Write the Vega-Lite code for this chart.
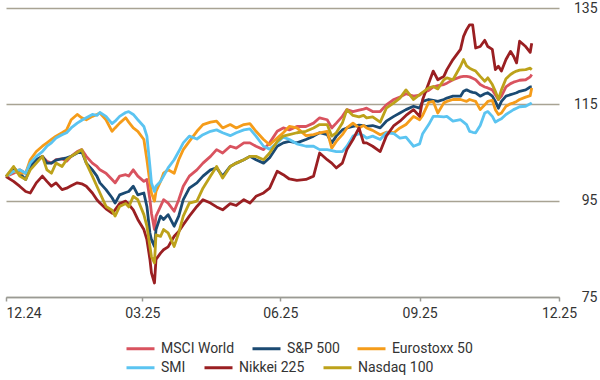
{
  "$schema": "https://vega.github.io/schema/vega-lite/v6.json",
  "width": 553,
  "height": 289,
  "autosize": {"type": "none"},
  "padding": {"left": 6, "top": 8, "right": 41, "bottom": 83},
  "background": "white",
  "config": {
    "view": {"stroke": null},
    "font": "Roboto",
    "axis": {"labelFont": "Roboto", "labelColor": "#333333", "labelFontSize": 14},
    "legend": {"labelFont": "Roboto", "labelColor": "#333333", "labelFontSize": 14}
  },
  "data": {
    "values": [
      {"d": "2024-12-31", "MSCI World": 100, "S&P 500": 100, "Eurostoxx 50": 100, "SMI": 100, "Nikkei 225": 100, "Nasdaq 100": 100},
      {"d": "2025-01-05", "MSCI World": 100.7, "S&P 500": 101.8, "Eurostoxx 50": 101.1, "SMI": 101.1, "Nikkei 225": 99.0, "Nasdaq 100": 102.1},
      {"d": "2025-01-09", "MSCI World": 101.4, "S&P 500": 100.7, "Eurostoxx 50": 100.7, "SMI": 101.4, "Nikkei 225": 98.0, "Nasdaq 100": 100.1},
      {"d": "2025-01-13", "MSCI World": 100.7, "S&P 500": 99.4, "Eurostoxx 50": 100.7, "SMI": 100.7, "Nikkei 225": 96.9, "Nasdaq 100": 99.4},
      {"d": "2025-01-16", "MSCI World": 102.8, "S&P 500": 102.1, "Eurostoxx 50": 103.5, "SMI": 102.8, "Nikkei 225": 96.6, "Nasdaq 100": 101.4},
      {"d": "2025-01-20", "MSCI World": 103.5, "S&P 500": 103.5, "Eurostoxx 50": 105.2, "SMI": 104.2, "Nikkei 225": 98.7, "Nasdaq 100": 102.8},
      {"d": "2025-01-24", "MSCI World": 104.2, "S&P 500": 104.2, "Eurostoxx 50": 106.3, "SMI": 105.2, "Nikkei 225": 100.1, "Nasdaq 100": 104.2},
      {"d": "2025-01-27", "MSCI World": 103.2, "S&P 500": 102.8, "Eurostoxx 50": 107.0, "SMI": 106.3, "Nikkei 225": 99.0, "Nasdaq 100": 101.4},
      {"d": "2025-01-30", "MSCI World": 102.8, "S&P 500": 102.8, "Eurostoxx 50": 107.7, "SMI": 107.0, "Nikkei 225": 98.0, "Nasdaq 100": 100.7},
      {"d": "2025-02-02", "MSCI World": 103.5, "S&P 500": 103.4, "Eurostoxx 50": 108.4, "SMI": 108.0, "Nikkei 225": 98.7, "Nasdaq 100": 102.8},
      {"d": "2025-02-06", "MSCI World": 103.7, "S&P 500": 103.7, "Eurostoxx 50": 109.1, "SMI": 108.7, "Nikkei 225": 97.3, "Nasdaq 100": 102.1},
      {"d": "2025-02-09", "MSCI World": 103.2, "S&P 500": 103.9, "Eurostoxx 50": 109.7, "SMI": 109.1, "Nikkei 225": 97.6, "Nasdaq 100": 103.5},
      {"d": "2025-02-12", "MSCI World": 104.2, "S&P 500": 104.2, "Eurostoxx 50": 111.8, "SMI": 110.1, "Nikkei 225": 98.1, "Nasdaq 100": 104.2},
      {"d": "2025-02-16", "MSCI World": 105.2, "S&P 500": 104.9, "Eurostoxx 50": 112.9, "SMI": 111.1, "Nikkei 225": 98.7, "Nasdaq 100": 105.0},
      {"d": "2025-02-19", "MSCI World": 105.6, "S&P 500": 105.2, "Eurostoxx 50": 112.2, "SMI": 111.7, "Nikkei 225": 98.5, "Nasdaq 100": 105.6},
      {"d": "2025-02-22", "MSCI World": 104.2, "S&P 500": 102.8, "Eurostoxx 50": 111.8, "SMI": 112.2, "Nikkei 225": 98.0, "Nasdaq 100": 102.8},
      {"d": "2025-02-26", "MSCI World": 102.8, "S&P 500": 101.4, "Eurostoxx 50": 112.5, "SMI": 112.9, "Nikkei 225": 96.6, "Nasdaq 100": 100.1},
      {"d": "2025-03-01", "MSCI World": 102.1, "S&P 500": 100.1, "Eurostoxx 50": 112.9, "SMI": 112.7, "Nikkei 225": 95.2, "Nasdaq 100": 98.0},
      {"d": "2025-03-03", "MSCI World": 101.4, "S&P 500": 98.7, "Eurostoxx 50": 113.2, "SMI": 113.3, "Nikkei 225": 94.5, "Nasdaq 100": 96.6},
      {"d": "2025-03-07", "MSCI World": 100.7, "S&P 500": 97.3, "Eurostoxx 50": 111.8, "SMI": 112.5, "Nikkei 225": 93.3, "Nasdaq 100": 93.8},
      {"d": "2025-03-11", "MSCI World": 99.4, "S&P 500": 95.6, "Eurostoxx 50": 109.4, "SMI": 111.0, "Nikkei 225": 92.4, "Nasdaq 100": 93.0},
      {"d": "2025-03-13", "MSCI World": 98.7, "S&P 500": 94.5, "Eurostoxx 50": 110.1, "SMI": 111.5, "Nikkei 225": 93.1, "Nasdaq 100": 91.8},
      {"d": "2025-03-16", "MSCI World": 100.1, "S&P 500": 96.2, "Eurostoxx 50": 111.1, "SMI": 112.5, "Nikkei 225": 94.4, "Nasdaq 100": 93.8},
      {"d": "2025-03-20", "MSCI World": 100.4, "S&P 500": 96.7, "Eurostoxx 50": 112.2, "SMI": 113.3, "Nikkei 225": 94.9, "Nasdaq 100": 94.4},
      {"d": "2025-03-22", "MSCI World": 100.1, "S&P 500": 96.9, "Eurostoxx 50": 111.3, "SMI": 113.5, "Nikkei 225": 94.2, "Nasdaq 100": 93.7},
      {"d": "2025-03-25", "MSCI World": 101.4, "S&P 500": 98.0, "Eurostoxx 50": 110.1, "SMI": 112.9, "Nikkei 225": 93.1, "Nasdaq 100": 95.9},
      {"d": "2025-03-28", "MSCI World": 100.1, "S&P 500": 96.2, "Eurostoxx 50": 109.4, "SMI": 111.8, "Nikkei 225": 91.1, "Nasdaq 100": 95.2},
      {"d": "2025-04-01", "MSCI World": 99.0, "S&P 500": 96.6, "Eurostoxx 50": 107.7, "SMI": 110.4, "Nikkei 225": 89.0, "Nasdaq 100": 92.1},
      {"d": "2025-04-03", "MSCI World": 99.4, "S&P 500": 93.8, "Eurostoxx 50": 103.5, "SMI": 108.4, "Nikkei 225": 86.9, "Nasdaq 100": 89.7},
      {"d": "2025-04-05", "MSCI World": 95.2, "S&P 500": 88.3, "Eurostoxx 50": 98.7, "SMI": 102.1, "Nikkei 225": 82.8, "Nasdaq 100": 85.5},
      {"d": "2025-04-06", "MSCI World": 92.4, "S&P 500": 86.9, "Eurostoxx 50": 96.6, "SMI": 98.7, "Nikkei 225": 80.0, "Nasdaq 100": 83.4},
      {"d": "2025-04-08", "MSCI World": 89.0, "S&P 500": 85.5, "Eurostoxx 50": 94.9, "SMI": 96.9, "Nikkei 225": 77.9, "Nasdaq 100": 82.1},
      {"d": "2025-04-09", "MSCI World": 91.8, "S&P 500": 89.0, "Eurostoxx 50": 96.9, "SMI": 98.0, "Nikkei 225": 82.8, "Nasdaq 100": 87.9},
      {"d": "2025-04-12", "MSCI World": 93.8, "S&P 500": 91.8, "Eurostoxx 50": 99.0, "SMI": 99.0, "Nikkei 225": 84.1, "Nasdaq 100": 87.6},
      {"d": "2025-04-14", "MSCI World": 95.2, "S&P 500": 91.1, "Eurostoxx 50": 100.7, "SMI": 100.1, "Nikkei 225": 84.8, "Nasdaq 100": 89.0},
      {"d": "2025-04-17", "MSCI World": 94.5, "S&P 500": 92.1, "Eurostoxx 50": 101.4, "SMI": 101.8, "Nikkei 225": 85.4, "Nasdaq 100": 88.3},
      {"d": "2025-04-21", "MSCI World": 92.8, "S&P 500": 89.7, "Eurostoxx 50": 100.7, "SMI": 103.5, "Nikkei 225": 87.6, "Nasdaq 100": 85.5},
      {"d": "2025-04-24", "MSCI World": 95.2, "S&P 500": 91.8, "Eurostoxx 50": 103.5, "SMI": 105.2, "Nikkei 225": 88.6, "Nasdaq 100": 88.3},
      {"d": "2025-04-27", "MSCI World": 98.0, "S&P 500": 95.2, "Eurostoxx 50": 105.6, "SMI": 107.0, "Nikkei 225": 90.0, "Nasdaq 100": 91.8},
      {"d": "2025-05-01", "MSCI World": 100.1, "S&P 500": 97.6, "Eurostoxx 50": 107.3, "SMI": 108.4, "Nikkei 225": 91.8, "Nasdaq 100": 94.5},
      {"d": "2025-05-06", "MSCI World": 101.4, "S&P 500": 98.7, "Eurostoxx 50": 109.4, "SMI": 107.8, "Nikkei 225": 93.8, "Nasdaq 100": 94.9},
      {"d": "2025-05-10", "MSCI World": 102.8, "S&P 500": 100.1, "Eurostoxx 50": 110.8, "SMI": 108.7, "Nikkei 225": 95.2, "Nasdaq 100": 97.6},
      {"d": "2025-05-15", "MSCI World": 104.2, "S&P 500": 101.4, "Eurostoxx 50": 111.3, "SMI": 109.4, "Nikkei 225": 94.5, "Nasdaq 100": 100.1},
      {"d": "2025-05-19", "MSCI World": 105.6, "S&P 500": 101.8, "Eurostoxx 50": 111.5, "SMI": 109.7, "Nikkei 225": 93.7, "Nasdaq 100": 102.1},
      {"d": "2025-05-23", "MSCI World": 104.9, "S&P 500": 100.1, "Eurostoxx 50": 110.1, "SMI": 109.1, "Nikkei 225": 93.1, "Nasdaq 100": 99.7},
      {"d": "2025-05-28", "MSCI World": 106.3, "S&P 500": 102.1, "Eurostoxx 50": 110.8, "SMI": 108.5, "Nikkei 225": 94.4, "Nasdaq 100": 102.1},
      {"d": "2025-06-01", "MSCI World": 105.9, "S&P 500": 102.8, "Eurostoxx 50": 110.1, "SMI": 109.1, "Nikkei 225": 94.0, "Nasdaq 100": 102.8},
      {"d": "2025-06-06", "MSCI World": 107.0, "S&P 500": 103.5, "Eurostoxx 50": 110.8, "SMI": 109.7, "Nikkei 225": 95.2, "Nasdaq 100": 103.5},
      {"d": "2025-06-10", "MSCI World": 107.0, "S&P 500": 104.2, "Eurostoxx 50": 111.0, "SMI": 109.9, "Nikkei 225": 94.5, "Nasdaq 100": 104.2},
      {"d": "2025-06-14", "MSCI World": 106.3, "S&P 500": 103.5, "Eurostoxx 50": 109.4, "SMI": 108.4, "Nikkei 225": 95.9, "Nasdaq 100": 104.2},
      {"d": "2025-06-19", "MSCI World": 105.6, "S&P 500": 102.8, "Eurostoxx 50": 107.7, "SMI": 106.3, "Nikkei 225": 96.6, "Nasdaq 100": 103.5},
      {"d": "2025-06-23", "MSCI World": 107.0, "S&P 500": 103.9, "Eurostoxx 50": 106.6, "SMI": 105.7, "Nikkei 225": 97.6, "Nasdaq 100": 104.9},
      {"d": "2025-06-28", "MSCI World": 109.4, "S&P 500": 106.3, "Eurostoxx 50": 108.0, "SMI": 107.0, "Nikkei 225": 101.1, "Nasdaq 100": 107.3},
      {"d": "2025-07-02", "MSCI World": 110.1, "S&P 500": 107.0, "Eurostoxx 50": 109.1, "SMI": 108.2, "Nikkei 225": 100.4, "Nasdaq 100": 108.4},
      {"d": "2025-07-06", "MSCI World": 109.7, "S&P 500": 107.3, "Eurostoxx 50": 110.4, "SMI": 107.7, "Nikkei 225": 99.5, "Nasdaq 100": 108.7},
      {"d": "2025-07-11", "MSCI World": 110.4, "S&P 500": 107.0, "Eurostoxx 50": 110.1, "SMI": 106.8, "Nikkei 225": 99.2, "Nasdaq 100": 109.1},
      {"d": "2025-07-17", "MSCI World": 110.4, "S&P 500": 107.7, "Eurostoxx 50": 108.5, "SMI": 106.3, "Nikkei 225": 99.4, "Nasdaq 100": 109.4},
      {"d": "2025-07-22", "MSCI World": 111.1, "S&P 500": 108.4, "Eurostoxx 50": 108.7, "SMI": 106.3, "Nikkei 225": 100.1, "Nasdaq 100": 110.1},
      {"d": "2025-07-26", "MSCI World": 112.2, "S&P 500": 109.1, "Eurostoxx 50": 109.1, "SMI": 105.6, "Nikkei 225": 104.9, "Nasdaq 100": 110.8},
      {"d": "2025-07-31", "MSCI World": 111.8, "S&P 500": 108.7, "Eurostoxx 50": 109.4, "SMI": 105.6, "Nikkei 225": 103.5, "Nasdaq 100": 110.8},
      {"d": "2025-08-03", "MSCI World": 110.1, "S&P 500": 107.0, "Eurostoxx 50": 105.9, "SMI": 105.4, "Nikkei 225": 102.8, "Nasdaq 100": 108.4},
      {"d": "2025-08-06", "MSCI World": 111.1, "S&P 500": 108.4, "Eurostoxx 50": 107.3, "SMI": 105.2, "Nikkei 225": 101.8, "Nasdaq 100": 109.1},
      {"d": "2025-08-10", "MSCI World": 112.5, "S&P 500": 109.7, "Eurostoxx 50": 108.7, "SMI": 105.2, "Nikkei 225": 102.8, "Nasdaq 100": 111.1},
      {"d": "2025-08-13", "MSCI World": 113.9, "S&P 500": 110.1, "Eurostoxx 50": 110.1, "SMI": 106.3, "Nikkei 225": 105.6, "Nasdaq 100": 113.9},
      {"d": "2025-08-17", "MSCI World": 113.5, "S&P 500": 110.4, "Eurostoxx 50": 111.1, "SMI": 108.4, "Nikkei 225": 107.7, "Nasdaq 100": 112.7},
      {"d": "2025-08-21", "MSCI World": 113.8, "S&P 500": 110.7, "Eurostoxx 50": 110.1, "SMI": 108.9, "Nikkei 225": 110.1, "Nasdaq 100": 112.4},
      {"d": "2025-08-24", "MSCI World": 114.0, "S&P 500": 110.6, "Eurostoxx 50": 110.6, "SMI": 108.5, "Nikkei 225": 107.0, "Nasdaq 100": 112.7},
      {"d": "2025-08-26", "MSCI World": 114.2, "S&P 500": 110.4, "Eurostoxx 50": 110.1, "SMI": 108.0, "Nikkei 225": 107.0, "Nasdaq 100": 112.2},
      {"d": "2025-08-30", "MSCI World": 113.5, "S&P 500": 110.6, "Eurostoxx 50": 109.6, "SMI": 108.4, "Nikkei 225": 106.3, "Nasdaq 100": 112.4},
      {"d": "2025-09-04", "MSCI World": 113.5, "S&P 500": 110.1, "Eurostoxx 50": 108.7, "SMI": 107.7, "Nikkei 225": 105.2, "Nasdaq 100": 111.3},
      {"d": "2025-09-08", "MSCI World": 114.9, "S&P 500": 111.5, "Eurostoxx 50": 109.2, "SMI": 109.1, "Nikkei 225": 108.4, "Nasdaq 100": 114.2},
      {"d": "2025-09-13", "MSCI World": 116.0, "S&P 500": 112.5, "Eurostoxx 50": 109.1, "SMI": 108.9, "Nikkei 225": 110.6, "Nasdaq 100": 115.3},
      {"d": "2025-09-17", "MSCI World": 116.5, "S&P 500": 113.2, "Eurostoxx 50": 110.1, "SMI": 108.0, "Nikkei 225": 111.5, "Nasdaq 100": 116.3},
      {"d": "2025-09-21", "MSCI World": 117.2, "S&P 500": 113.9, "Eurostoxx 50": 110.8, "SMI": 108.2, "Nikkei 225": 112.7, "Nasdaq 100": 118.0},
      {"d": "2025-09-26", "MSCI World": 116.7, "S&P 500": 114.6, "Eurostoxx 50": 112.5, "SMI": 106.3, "Nikkei 225": 113.9, "Nasdaq 100": 116.0},
      {"d": "2025-09-30", "MSCI World": 116.9, "S&P 500": 114.2, "Eurostoxx 50": 111.8, "SMI": 106.8, "Nikkei 225": 112.5, "Nasdaq 100": 117.0},
      {"d": "2025-10-02", "MSCI World": 117.4, "S&P 500": 115.6, "Eurostoxx 50": 112.7, "SMI": 108.9, "Nikkei 225": 116.0, "Nasdaq 100": 117.5},
      {"d": "2025-10-06", "MSCI World": 117.9, "S&P 500": 116.0, "Eurostoxx 50": 115.4, "SMI": 110.8, "Nikkei 225": 119.4, "Nasdaq 100": 118.4},
      {"d": "2025-10-09", "MSCI World": 118.6, "S&P 500": 115.8, "Eurostoxx 50": 115.6, "SMI": 112.5, "Nikkei 225": 121.9, "Nasdaq 100": 118.7},
      {"d": "2025-10-12", "MSCI World": 118.9, "S&P 500": 115.6, "Eurostoxx 50": 113.2, "SMI": 112.5, "Nikkei 225": 120.1, "Nasdaq 100": 118.2},
      {"d": "2025-10-16", "MSCI World": 119.1, "S&P 500": 116.0, "Eurostoxx 50": 115.3, "SMI": 112.4, "Nikkei 225": 120.8, "Nasdaq 100": 120.1},
      {"d": "2025-10-18", "MSCI World": 119.4, "S&P 500": 116.3, "Eurostoxx 50": 115.6, "SMI": 112.5, "Nikkei 225": 122.2, "Nasdaq 100": 120.5},
      {"d": "2025-10-22", "MSCI World": 120.1, "S&P 500": 116.7, "Eurostoxx 50": 116.0, "SMI": 111.5, "Nikkei 225": 124.3, "Nasdaq 100": 120.1},
      {"d": "2025-10-27", "MSCI World": 120.7, "S&P 500": 116.7, "Eurostoxx 50": 116.0, "SMI": 111.8, "Nikkei 225": 126.4, "Nasdaq 100": 122.9},
      {"d": "2025-10-29", "MSCI World": 120.8, "S&P 500": 117.7, "Eurostoxx 50": 115.8, "SMI": 111.3, "Nikkei 225": 129.1, "Nasdaq 100": 124.3},
      {"d": "2025-10-31", "MSCI World": 120.8, "S&P 500": 118.0, "Eurostoxx 50": 115.6, "SMI": 110.8, "Nikkei 225": 130.5, "Nasdaq 100": 123.0},
      {"d": "2025-11-02", "MSCI World": 120.7, "S&P 500": 117.7, "Eurostoxx 50": 116.0, "SMI": 109.4, "Nikkei 225": 131.5, "Nasdaq 100": 122.5},
      {"d": "2025-11-04", "MSCI World": 120.4, "S&P 500": 117.5, "Eurostoxx 50": 115.8, "SMI": 109.2, "Nikkei 225": 131.5, "Nasdaq 100": 122.2},
      {"d": "2025-11-06", "MSCI World": 120.1, "S&P 500": 117.4, "Eurostoxx 50": 115.6, "SMI": 109.1, "Nikkei 225": 126.7, "Nasdaq 100": 121.9},
      {"d": "2025-11-09", "MSCI World": 119.1, "S&P 500": 116.7, "Eurostoxx 50": 113.9, "SMI": 110.6, "Nikkei 225": 127.0, "Nasdaq 100": 120.8},
      {"d": "2025-11-12", "MSCI World": 118.6, "S&P 500": 117.2, "Eurostoxx 50": 114.9, "SMI": 113.2, "Nikkei 225": 128.3, "Nasdaq 100": 119.8},
      {"d": "2025-11-14", "MSCI World": 118.4, "S&P 500": 117.4, "Eurostoxx 50": 115.6, "SMI": 113.5, "Nikkei 225": 127.0, "Nasdaq 100": 120.5},
      {"d": "2025-11-17", "MSCI World": 118.0, "S&P 500": 116.7, "Eurostoxx 50": 115.8, "SMI": 112.5, "Nikkei 225": 126.4, "Nasdaq 100": 119.1},
      {"d": "2025-11-19", "MSCI World": 117.0, "S&P 500": 115.6, "Eurostoxx 50": 113.9, "SMI": 111.3, "Nikkei 225": 122.2, "Nasdaq 100": 117.7},
      {"d": "2025-11-21", "MSCI World": 116.0, "S&P 500": 114.2, "Eurostoxx 50": 112.9, "SMI": 111.7, "Nikkei 225": 122.9, "Nasdaq 100": 116.0},
      {"d": "2025-11-23", "MSCI World": 116.7, "S&P 500": 115.6, "Eurostoxx 50": 113.2, "SMI": 112.0, "Nikkei 225": 121.9, "Nasdaq 100": 118.0},
      {"d": "2025-11-26", "MSCI World": 118.6, "S&P 500": 116.7, "Eurostoxx 50": 114.6, "SMI": 112.9, "Nikkei 225": 124.3, "Nasdaq 100": 120.3},
      {"d": "2025-11-29", "MSCI World": 119.3, "S&P 500": 117.0, "Eurostoxx 50": 115.1, "SMI": 113.5, "Nikkei 225": 126.0, "Nasdaq 100": 121.2},
      {"d": "2025-12-01", "MSCI World": 119.6, "S&P 500": 117.2, "Eurostoxx 50": 115.3, "SMI": 113.9, "Nikkei 225": 125.0, "Nasdaq 100": 121.6},
      {"d": "2025-12-03", "MSCI World": 119.8, "S&P 500": 117.4, "Eurostoxx 50": 115.6, "SMI": 114.2, "Nikkei 225": 123.6, "Nasdaq 100": 121.9},
      {"d": "2025-12-05", "MSCI World": 120.0, "S&P 500": 117.7, "Eurostoxx 50": 116.0, "SMI": 114.5, "Nikkei 225": 128.1, "Nasdaq 100": 122.1},
      {"d": "2025-12-09", "MSCI World": 120.1, "S&P 500": 118.0, "Eurostoxx 50": 116.5, "SMI": 114.6, "Nikkei 225": 127.0, "Nasdaq 100": 122.2},
      {"d": "2025-12-12", "MSCI World": 120.7, "S&P 500": 118.6, "Eurostoxx 50": 116.8, "SMI": 115.1, "Nikkei 225": 125.8, "Nasdaq 100": 122.5},
      {"d": "2025-12-13", "MSCI World": 121.2, "S&P 500": 118.6, "Eurostoxx 50": 118.4, "SMI": 115.3, "Nikkei 225": 127.7, "Nasdaq 100": 122.2}
    ]
  },
  "transform": [
    {"fold": ["MSCI World", "S&P 500", "Eurostoxx 50", "SMI", "Nikkei 225", "Nasdaq 100"], "as": ["series", "value"]}
  ],
  "encoding": {
    "x": {
      "field": "d",
      "type": "temporal",
      "scale": {
        "type": "utc",
        "domain": [{"year": 2024, "month": 12, "date": 31, "utc": true}, {"year": 2025, "month": 12, "date": 31, "utc": true}]
      },
      "axis": {
        "title": null,
        "values": [
          {"year": 2024, "month": 12, "date": 31, "utc": true},
          {"year": 2025, "month": 3, "date": 31, "utc": true},
          {"year": 2025, "month": 6, "date": 30, "utc": true},
          {"year": 2025, "month": 9, "date": 30, "utc": true},
          {"year": 2025, "month": 12, "date": 31, "utc": true}
        ],
        "format": "%m.%y",
        "grid": false,
        "domainColor": "#9a9a94",
        "domainWidth": 1.5,
        "tickColor": "#9a9a94",
        "tickWidth": 1.5,
        "tickSize": 4,
        "labelPadding": 5,
        "labelAlign": {"expr": "datum.index === 0 ? 'left' : 'center'"},
        "labelDx": {"expr": "datum.index === 0 ? -3 : 0"}
      }
    },
    "y": {
      "field": "value",
      "type": "quantitative",
      "scale": {"domain": [75, 135], "nice": false, "zero": false},
      "axis": {
        "title": null,
        "orient": "right",
        "values": [75, 95, 115, 135],
        "domain": false,
        "ticks": false,
        "grid": true,
        "gridColor": "#a8a393",
        "gridWidth": 1.5,
        "labelAlign": "right",
        "labelPadding": 38
      }
    }
  },
  "layer": [
    {
      "transform": [{"filter": {"field": "series", "oneOf": ["MSCI World", "S&P 500", "Eurostoxx 50"]}}],
      "mark": {"type": "line", "strokeWidth": 2.8, "strokeJoin": "round"},
      "encoding": {
        "color": {
          "field": "series",
          "type": "nominal",
          "scale": {
            "domain": ["MSCI World", "S&P 500", "Eurostoxx 50"],
            "range": ["#d9535f", "#1b4a72", "#f59c1a"]
          },
          "legend": {
            "title": null,
            "orient": "none",
            "legendX": 119,
            "legendY": 325,
            "direction": "horizontal",
            "symbolType": "stroke",
            "symbolSize": 784,
            "symbolStrokeWidth": 3,
            "labelOffset": 5,
            "columnPadding": 11
          }
        }
      }
    },
    {
      "transform": [{"filter": {"field": "series", "oneOf": ["SMI", "Nikkei 225", "Nasdaq 100"]}}],
      "mark": {"type": "line", "strokeWidth": 2.8, "strokeJoin": "round"},
      "encoding": {
        "color": {
          "field": "series",
          "type": "nominal",
          "scale": {
            "domain": ["SMI", "Nikkei 225", "Nasdaq 100"],
            "range": ["#5bc4f1", "#9a1f22", "#bda21a"]
          },
          "legend": {
            "title": null,
            "orient": "none",
            "legendX": 119,
            "legendY": 344,
            "direction": "horizontal",
            "symbolType": "stroke",
            "symbolSize": 784,
            "symbolStrokeWidth": 3,
            "labelOffset": 5,
            "columnPadding": 12
          }
        }
      }
    }
  ],
  "resolve": {"scale": {"color": "independent"}}
}
